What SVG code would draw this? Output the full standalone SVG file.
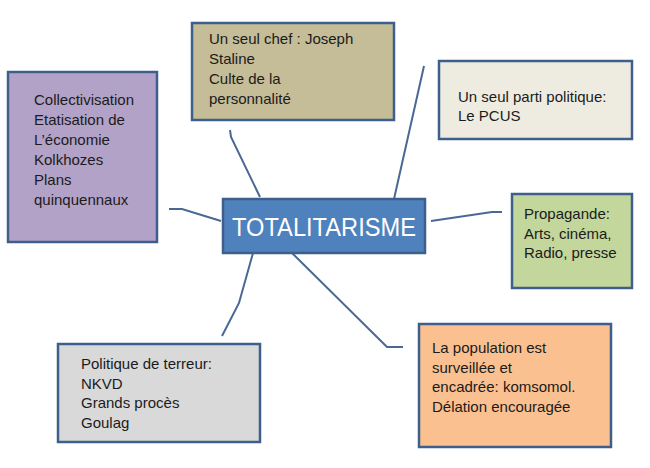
<svg xmlns="http://www.w3.org/2000/svg" width="650" height="468" viewBox="0 0 650 468">
<style>
.box{stroke:#3E5F8C;stroke-width:2.5}
.t{font-family:"Liberation Sans",Arial,sans-serif;font-size:15px;fill:#1b1b1b}
.c{fill:none;stroke:#4A6894;stroke-width:2}
</style>
<rect width="650" height="468" fill="#ffffff"/>
<g id="connectors">
<polyline class="c" points="169,209 182,209 221,221"/>
<polyline class="c" points="230,130 231,137 260,197"/>
<polyline class="c" points="424,66 394,199"/>
<polyline class="c" points="431,221 492,212 502,212"/>
<polyline class="c" points="253,253 239,303 222,336"/>
<polyline class="c" points="292,253 387,347 403,347"/>
</g>
<g id="center">
<rect class="box" x="223" y="199" width="202" height="54" fill="#4F81BD"/>
<text x="324" y="236" text-anchor="middle" font-family="'Liberation Sans',Arial,sans-serif" font-size="25.5" fill="#ffffff" textLength="184" lengthAdjust="spacingAndGlyphs">TOTALITARISME</text>
</g>
<g id="economie">
<rect class="box" x="8" y="72" width="149" height="170" fill="#B3A2C7"/>
<text class="t" x="34" y="105">Collectivisation</text>
<text class="t" x="34" y="125">Etatisation de</text>
<text class="t" x="34" y="145">L’économie</text>
<text class="t" x="34" y="165">Kolkhozes</text>
<text class="t" x="34" y="185">Plans</text>
<text class="t" x="34" y="205">quinquennaux</text>
</g>
<g id="chef">
<rect class="box" x="192" y="23" width="202" height="97" fill="#C4BD97"/>
<text class="t" x="209" y="44">Un seul chef : Joseph</text>
<text class="t" x="209" y="64">Staline</text>
<text class="t" x="209" y="84">Culte de la</text>
<text class="t" x="209" y="104">personnalité</text>
</g>
<g id="parti">
<rect class="box" x="439" y="61" width="193" height="78" fill="#EEECE1"/>
<text class="t" x="458" y="102">Un seul parti politique:</text>
<text class="t" x="458" y="121">Le PCUS</text>
</g>
<g id="propagande">
<rect class="box" x="512" y="194" width="120" height="94" fill="#C3D69B"/>
<text class="t" x="524" y="219">Propagande:</text>
<text class="t" x="524" y="239">Arts, cinéma,</text>
<text class="t" x="524" y="258">Radio, presse</text>
</g>
<g id="terreur">
<rect class="box" x="58" y="344" width="202" height="98" fill="#D9D9D9"/>
<text class="t" x="81" y="369">Politique de terreur:</text>
<text class="t" x="81" y="389">NKVD</text>
<text class="t" x="81" y="408">Grands procès</text>
<text class="t" x="81" y="428">Goulag</text>
</g>
<g id="population">
<rect class="box" x="419" y="324" width="192" height="123" fill="#FAC090"/>
<text class="t" x="432" y="353">La population est</text>
<text class="t" x="432" y="373">surveillée et</text>
<text class="t" x="432" y="392">encadrée: komsomol.</text>
<text class="t" x="432" y="412">Délation encouragée</text>
</g>
</svg>
